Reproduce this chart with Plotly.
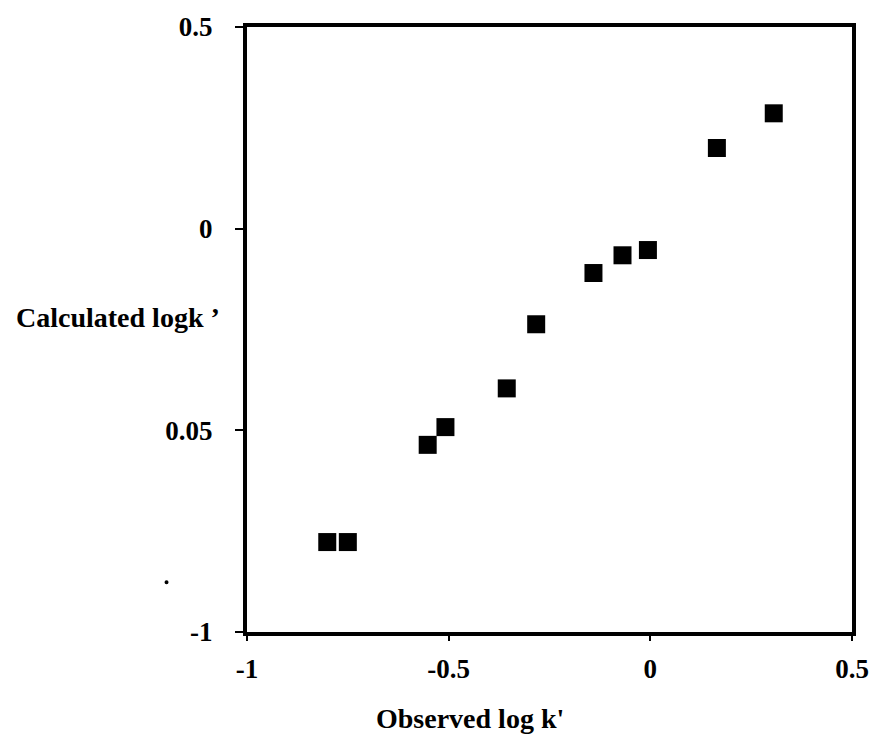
import plotly.graph_objects as go

# Data
observed_logk = [-0.801, -0.750, -0.552, -0.508, -0.356, -0.283, -0.141, -0.069, -0.006, 0.165, 0.306]
calculated_logk = [-0.777, -0.777, -0.536, -0.492, -0.396, -0.237, -0.110, -0.066, -0.053, 0.200, 0.286]

x_tick_vals = [-1, -0.5, 0, 0.5]
x_tick_text = ["-1", "-0.5", "0", "0.5"]
y_tick_vals = [0.5, 0, -0.5, -1]
y_tick_text = ["0.5", "0", "0.05", "-1"]

FONT = "Liberation Serif"

fig = go.Figure()
fig.add_trace(go.Scatter(
    x=observed_logk, y=calculated_logk, mode="markers",
    marker=dict(symbol="square", size=18, color="black", line=dict(width=0)),
    showlegend=False, hoverinfo="x+y",
))

fig.update_layout(
    width=881, height=734,
    margin=dict(l=247, r=23, t=20, b=102),
    paper_bgcolor="white", plot_bgcolor="white",
    font=dict(family=FONT, color="black"),
    xaxis=dict(
        range=[-1, 0.5], tickvals=x_tick_vals, ticktext=x_tick_text,
        showgrid=False, zeroline=False,
        showline=True, linecolor="black", linewidth=4, mirror=True,
        ticks="outside", ticklen=5, tickwidth=2, tickcolor="black",
        tickfont=dict(family=FONT, size=27, color="black", weight="bold"),
        ticklabelstandoff=5,
    ),
    yaxis=dict(
        range=[-1, 0.5], tickvals=y_tick_vals, ticktext=y_tick_text,
        showgrid=False, zeroline=False,
        showline=True, linecolor="black", linewidth=4, mirror=True,
        ticks="outside", ticklen=8, tickwidth=2, tickcolor="black",
        tickfont=dict(family=FONT, size=27, color="black", weight="bold"),
        ticklabelstandoff=17,
    ),
    annotations=[
        dict(text="Calculated logk \u2019", xref="paper", yref="paper",
             x=-0.3846, y=0.5196, xanchor="left", yanchor="middle", showarrow=False,
             font=dict(family=FONT, size=28, color="black", weight="bold")),
        dict(text="Observed log k'", xref="paper", yref="paper",
             x=0.368, y=-0.1438, xanchor="center", yanchor="middle", showarrow=False,
             font=dict(family=FONT, size=28, color="black", weight="bold")),
    ],
    shapes=[
        dict(type="circle", xref="paper", yref="paper",
             x0=-0.1363, x1=-0.1297, y0=0.0789, y1=0.0855,
             fillcolor="black", line=dict(width=0)),
    ],
)

fig.write_html(
    "out.html",
    config={"displayModeBar": False},
    post_script=(
        "document.documentElement.style.overflow='hidden';"
        "document.documentElement.style.margin='0';"
        "document.body.style.margin='0';document.body.style.padding='0';"
        "document.body.style.overflow='hidden';"
    ),
)
